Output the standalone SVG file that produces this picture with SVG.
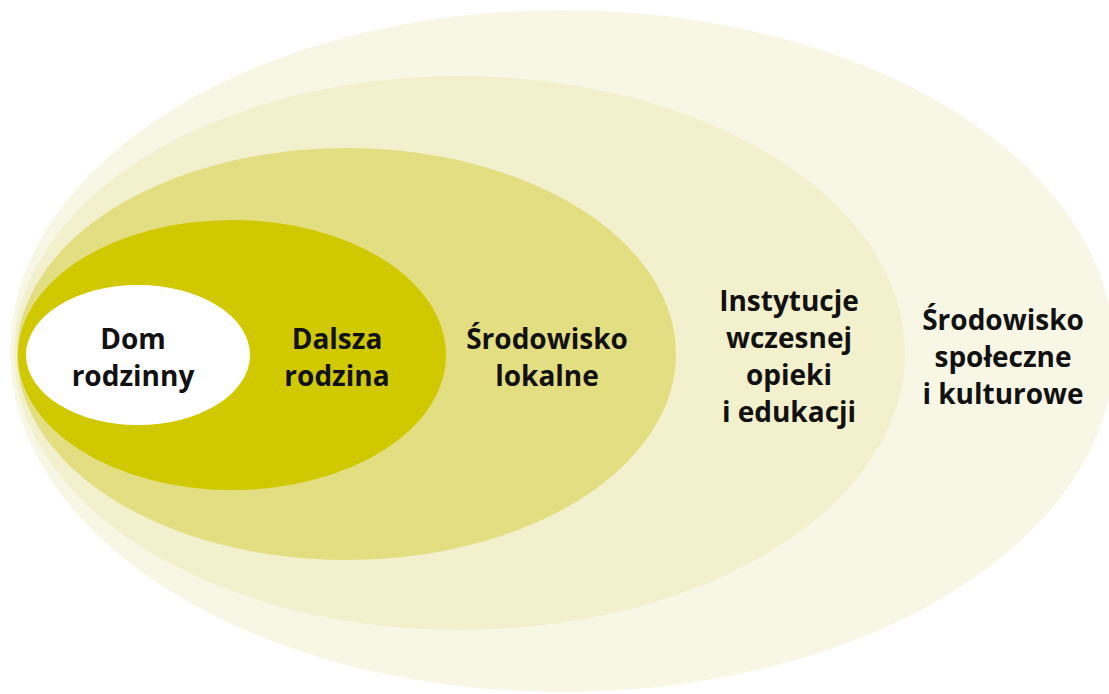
<svg xmlns="http://www.w3.org/2000/svg" width="1109" height="694" viewBox="0 0 1109 694">
  <style>
    .lbl { font-family: "Open Sans", "Noto Sans", "Liberation Sans", sans-serif; font-weight: 700; font-size: 28px; fill: #111; text-anchor: middle; }
    .ring1 { fill: #f8f7e6; }
    .ring2 { fill: #f3f0cd; }
    .ring3 { fill: #e4de83; }
    .ring4 { fill: #d1c900; }
    .core  { fill: #ffffff; }
  </style>
  <rect width="1109" height="694" fill="#ffffff"/>

  <!-- nested spheres, outermost first -->
  <g id="srodowisko-spoleczne">
    <ellipse class="ring1" cx="562" cy="351" rx="552" ry="341"/>
    <text class="lbl" x="1003" y="330">Środowisko</text>
    <text class="lbl" x="1003" y="367">społeczne</text>
    <text class="lbl" x="1003" y="404">i kulturowe</text>
  </g>

  <g id="instytucje">
    <ellipse class="ring2" cx="459.5" cy="353" rx="445.5" ry="277"/>
    <text class="lbl" x="789" y="311">Instytucje</text>
    <text class="lbl" x="789" y="348">wczesnej</text>
    <text class="lbl" x="789" y="385">opieki</text>
    <text class="lbl" x="789" y="422">i edukacji</text>
  </g>

  <g id="srodowisko-lokalne">
    <ellipse class="ring3" cx="346.5" cy="354" rx="329.5" ry="206"/>
    <text class="lbl" x="547" y="349">Środowisko</text>
    <text class="lbl" x="547" y="386">lokalne</text>
  </g>

  <g id="dalsza-rodzina">
    <ellipse class="ring4" cx="232" cy="355" rx="214" ry="135"/>
    <text class="lbl" x="337" y="349">Dalsza</text>
    <text class="lbl" x="337" y="386">rodzina</text>
  </g>

  <g id="dom-rodzinny">
    <ellipse class="core" cx="138" cy="355" rx="112" ry="70"/>
    <text class="lbl" x="133" y="349">Dom</text>
    <text class="lbl" x="133" y="386">rodzinny</text>
  </g>

  <g id="connectors"/>
</svg>
